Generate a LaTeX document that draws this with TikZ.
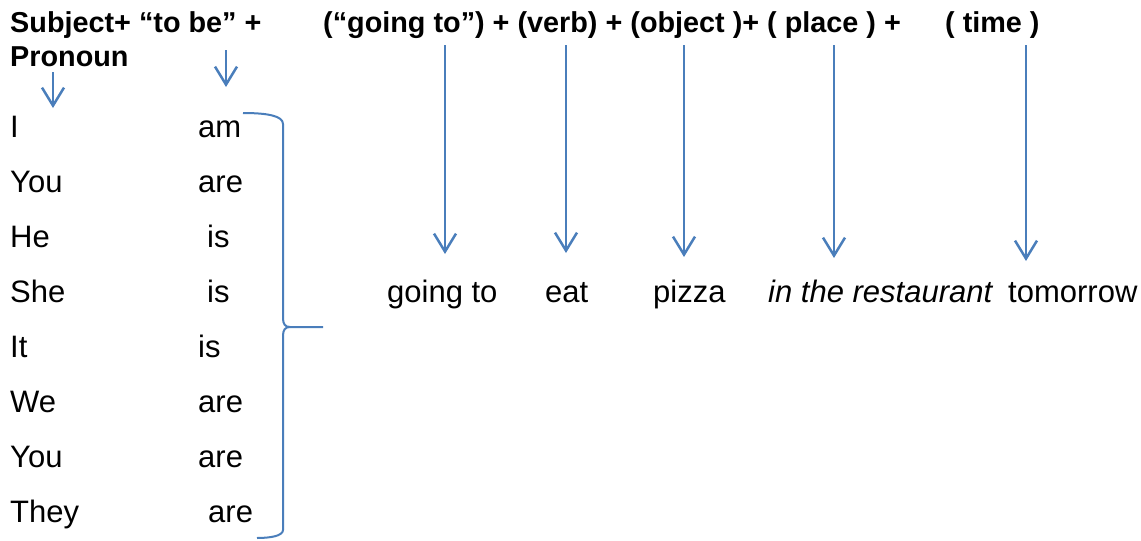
\documentclass[tikz,border=0pt]{standalone}
\usepackage{fontspec}
\setmainfont{Liberation Sans}
\usetikzlibrary{arrows.meta}
\definecolor{arrblue}{HTML}{4A7EBB}
\tikzset{
  body/.style={anchor=base west, inner sep=0pt, font=\fontsize{31}{36}\selectfont},
  head/.style={anchor=base west, inner sep=0pt, font=\fontsize{28.8}{34}\selectfont\bfseries},
  arr/.style={draw=arrblue, line width=2.5pt, -{Straight Barb[length=18pt,width=22pt,line width=2.5pt]}},
  bracestyle/.style={draw=arrblue, line width=2pt, line join=round}
}
\begin{document}
\begin{tikzpicture}[x=1pt,y=-1pt]
\useasboundingbox (0,0) rectangle (1141,541);
% header
\node[head] (h1) at (10,32) {Subject+ “to be” +};
\node[head] (h1b) at (10,66) {Pronoun};
\node[head] (h2) at (323,32) {(“going to”) + (verb) + (object )+ ( place ) +};
\node[head] (h6) at (945,32) {( time )};
% columns
\node[body] (p1) at (10,137) {I};
\node[body] (p2) at (10,192) {You};
\node[body] (p3) at (10,247) {He};
\node[body] (p4) at (10,302) {She};
\node[body] (p5) at (10,357) {It};
\node[body] (p6) at (10,412) {We};
\node[body] (p7) at (10,467) {You};
\node[body] (p8) at (10,522) {They};
\node[body] (b1) at (198,137) {am};
\node[body] (b2) at (198,192) {are};
\node[body] (b3) at (207,247) {is};
\node[body] (b4) at (207,302) {is};
\node[body] (b5) at (198,357) {is};
\node[body] (b6) at (198,412) {are};
\node[body] (b7) at (198,467) {are};
\node[body] (b8) at (208,522) {are};
% example words
\node[body] (w1) at (387,302) {going to};
\node[body] (w2) at (545,302) {eat};
\node[body] (w3) at (653,302) {pizza};
\node[body] (w4) at (768,302) {\itshape in the restaurant};
\node[body] (w5) at (1008,302) {tomorrow};
% arrows
\coordinate (a1s) at (53,72);   \coordinate (a1e) at (53,108);
\coordinate (a2s) at (226,50);  \coordinate (a2e) at (226,87);
\coordinate (a3s) at (445,45);  \coordinate (a3e) at (445,254);
\coordinate (a4s) at (566,45);  \coordinate (a4e) at (566,253);
\coordinate (a5s) at (684,45);  \coordinate (a5e) at (684,257);
\coordinate (a6s) at (834,45);  \coordinate (a6e) at (834,258);
\coordinate (a7s) at (1026,45); \coordinate (a7e) at (1026,261);
\draw[arr] (a1s) -- (a1e);
\draw[arr] (a2s) -- (a2e);
\draw[arr] (a3s) -- (a3e);
\draw[arr] (a4s) -- (a4e);
\draw[arr] (a5s) -- (a5e);
\draw[arr] (a6s) -- (a6e);
\draw[arr] (a7s) -- (a7e);
% brace
\coordinate (brtop) at (243,113);
\coordinate (brtip) at (290,327);
\coordinate (brend) at (323,327);
\coordinate (brbot) at (257,538);
\draw[bracestyle] (brtop) .. controls (268,113) and (283,116) .. (283,124)
  -- (283,318) .. controls (283,324) and (285,327) .. (brtip) -- (brend);
\draw[bracestyle] (brtip) .. controls (285,327) and (283,330) .. (283,336)
  -- (283,530) .. controls (283,536) and (270,538) .. (brbot);
\end{tikzpicture}
\end{document}
